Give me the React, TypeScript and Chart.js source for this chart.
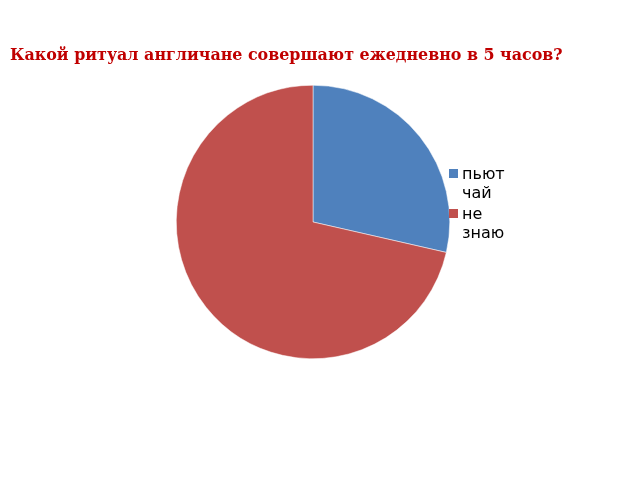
import React, { useEffect, useRef } from "react";
import { Chart, registerables } from "chart.js";

Chart.register(...registerables);

const titleText = "Какой ритуал англичане совершают ежедневно в 5 часов?";
const categories = [["пьют", "чай"], ["не", "знаю"]];
const values = [2, 5];
const colors = ["#4F81BD", "#C0504D"];

const overlayPlugin = {
  id: "overlay",
  afterDraw(chart: any) {
    const ctx = chart.ctx;
    ctx.save();
    ctx.fillStyle = "#C00000";
    ctx.font = "bold 15.9px 'DejaVu Serif'";
    ctx.textBaseline = "middle";
    ctx.textAlign = "left";
    ctx.fillText(titleText, 10, 56);
    ctx.font = "16px 'DejaVu Sans'";
    let y = 175;
    categories.forEach((lines, i) => {
      ctx.fillStyle = colors[i];
      ctx.fillRect(449, y - 6, 9, 9);
      ctx.fillStyle = "#000000";
      lines.forEach((ln, j) => {
        ctx.fillText(ln, 462, y + j * 19);
      });
      y += lines.length * 19 + 2;
    });
    ctx.restore();
  },
};

export default function App() {
  const ref = useRef<HTMLCanvasElement>(null);
  useEffect(() => {
    const chart = new Chart(ref.current!, {
      type: "pie",
      data: {
        labels: categories.map((c) => c.join(" ")),
        datasets: [
          {
            data: values,
            backgroundColor: colors,
            borderColor: "#ffffff",
            borderWidth: 0.5,
          },
        ],
      },
      options: {
        animation: false,
        responsive: false,
        layout: { padding: { left: 176, right: 190, top: 85, bottom: 121 } },
        plugins: { legend: { display: false }, title: { display: false }, tooltip: { enabled: false } },
      },
      plugins: [overlayPlugin],
    });
    return () => chart.destroy();
  }, []);
  return (
    <div style={{ position: "absolute", left: 0, top: 0, width: 640, height: 480, background: "#fff" }}>
      <canvas ref={ref} width={640} height={480} style={{ width: 640, height: 480 }} />
    </div>
  );
}
